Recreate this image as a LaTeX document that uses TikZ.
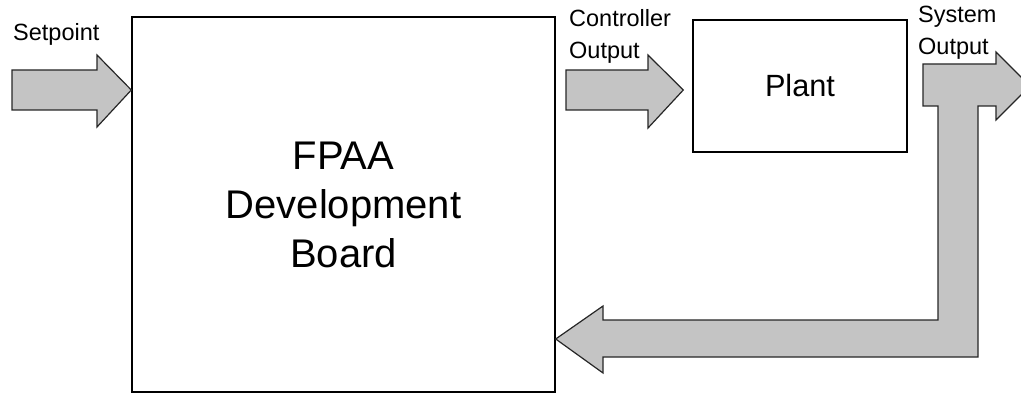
\documentclass[tikz,border=0pt]{standalone}
\usepackage{fontspec}
\setmainfont{Liberation Sans}
\begin{document}
\begin{tikzpicture}[x=1pt,y=-1pt,
  box/.style={draw=black, line width=1.4pt, inner sep=0pt, fill=white},
  flow/.style={draw=black!85, line width=1.2pt, fill=black!23, line join=miter},
  lbl/.style={inner sep=0pt, anchor=base west}]
\useasboundingbox (0,0) rectangle (1021,393);
\clip (0,0) rectangle (1021,393);

% blocks
\node[box, minimum width=423pt, minimum height=375pt, align=center,
      font=\fontsize{40}{49}\selectfont] (fpaa) at (343.5,204.5)
      {FPAA\\Development\\Board};
\node[box, minimum width=214pt, minimum height=132pt,
      font=\fontsize{30.7}{36}\selectfont] (plant) at (800,86) {Plant};

% rows of the block arrows
\coordinate (row1) at (0,90);
\coordinate (row3) at (0,339);
\coordinate (tipA) at (fpaa.west |- row1);
\coordinate (tipB) at ([xshift=-9pt]plant.west |- row1);
\coordinate (tipC) at (fpaa.east |- row3);

% setpoint input
\draw[flow] (12,70) -- (97,70) -- (97,55) -- (tipA) -- (97,127) -- (97,110)
  -- (12,110) -- cycle;

% controller output into the plant
\draw[flow] (566,70) -- (648,70) -- (648,55) -- (tipB) -- (648,128)
  -- (648,110) -- (566,110) -- cycle;

% system output with feedback path back to the board
\draw[flow] (923,64) -- (996,64) -- (996,52) -- (1030,86) -- (996,120)
  -- (996,106) -- (978,106) -- (978,357) -- (603,357) -- (603,373)
  -- (tipC) -- (603,306) -- (603,320) -- (938,320) -- (938,106)
  -- (923,106) -- cycle;

% labels
\node[lbl] (lsp) at (13,41)
  {\fontsize{23.5}{31.5}\selectfont Setpoint};
\node[lbl] (lco) at (569,27)
  {\parbox[t]{130pt}{\fontsize{23.5}{31.5}\selectfont\raggedright Controller\\Output}};
\node[lbl] (lso) at (918,23)
  {\parbox[t]{110pt}{\fontsize{23.5}{31.5}\selectfont\raggedright System\\Output}};
\end{tikzpicture}
\end{document}
